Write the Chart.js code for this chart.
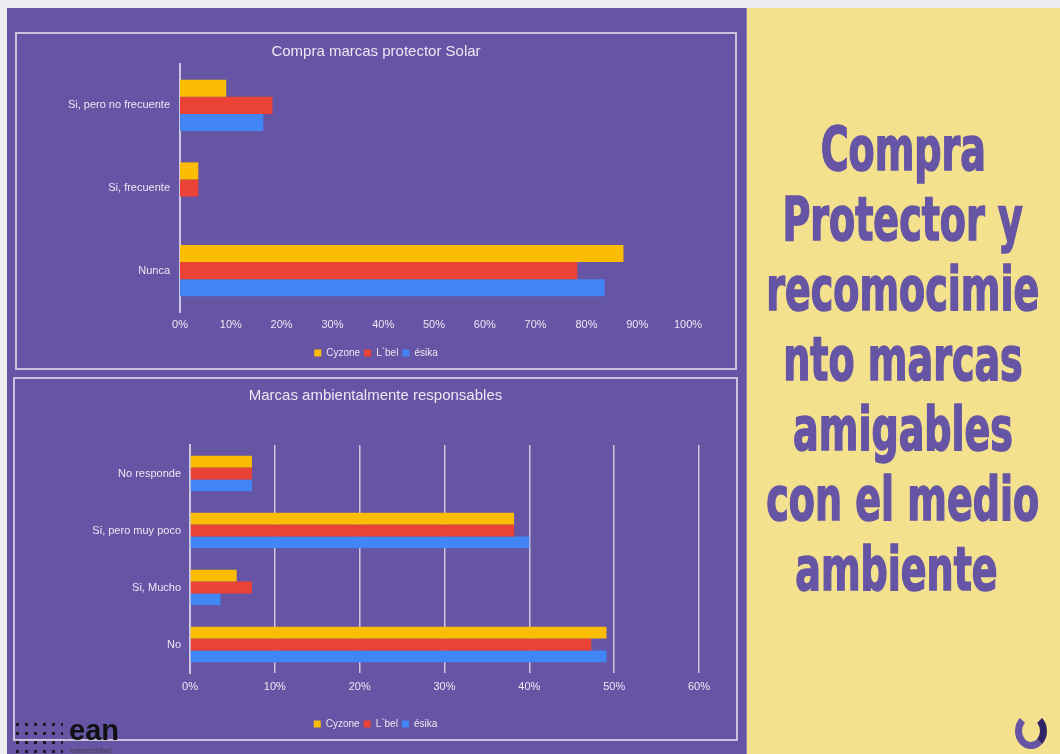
<!DOCTYPE html>
<html>
<head>
<meta charset="utf-8">
<script src="https://cdn.jsdelivr.net/npm/chart.js@4.4.1/dist/chart.umd.min.js"></script>
<style>
  html, body { margin: 0; padding: 0; }
  body { width: 1060px; height: 754px; background: #ececf1; position: relative; overflow: hidden; font-family: "Liberation Sans", Arial, sans-serif; }
  #purple { position: absolute; left: 7px; top: 8px; width: 739px; height: 746px; background: #6654a4; }
  #yellow { position: absolute; left: 746px; top: 8px; width: 314px; height: 746px; background: #f3e18e; border-left: 1px solid #8f84bd; box-sizing: border-box; }
  .box { position: absolute; border: 2px solid #c9c3de; box-sizing: border-box; }
  .box canvas { position: absolute; left: 0; top: 0; }
  #headline { position: absolute; left: 746px; top: 114px; width: 314px;
    display: flex; flex-direction: column; align-items: center;
    font-family: "DejaVu Sans Condensed", "Liberation Sans Narrow", "Liberation Sans", sans-serif;
    font-weight: bold; font-size: 60px; line-height: 70px; color: #6654a4;
    -webkit-text-stroke: 1.6px #6654a4; }
  #headline div { white-space: pre; }
  #ean { position: absolute; left: 13px; top: 718px; width: 120px; height: 36px; }
  #ean .dots { position: absolute; left: 0; top: 2px; width: 50px; height: 34px;
    background-image: radial-gradient(circle, #111 1.6px, transparent 2px); background-size: 9px 9px; opacity: 0.85; }
  #ean .word { position: absolute; left: 56px; top: -4px; font: bold 29px "Liberation Sans", Arial, sans-serif; color: #111; }
  #ean .sub { position: absolute; left: 57px; top: 28px; font: 8px "Liberation Sans", Arial, sans-serif; color: #444; }
  #clogo { position: absolute; left: 1015px; top: 713px; width: 18px; height: 22px; border-radius: 50%;
    border: 7px solid #6654a4; border-right-color: #2e2466; border-top-color: transparent; }
</style>
</head>
<body>
<div id="purple"></div>
<div id="yellow"></div>

<div class="box" style="left:15px; top:32px; width:722px; height:338px;">
  <canvas id="chartSolar" width="718" height="334"></canvas>
</div>
<div class="box" style="left:13px; top:377px; width:725px; height:364px;">
  <canvas id="chartAmbiente" width="721" height="360"></canvas>
</div>

<div id="headline">
  <div>Compra</div><div>Protector y</div><div>recomocimie</div><div>nto marcas</div><div>amigables</div><div>con el medio</div><div>ambiente </div>
</div>

<div id="ean"><div class="dots"></div><div class="word">ean</div><div class="sub">universidad</div></div>
<div id="clogo"></div>

<script>
// Datos
const brands = ['Cyzone', 'L`bel', 'ésika'];
const brandColors = ['#fbbc04', '#ea4335', '#4285f4'];

const solarLabels = ['Si, pero no frecuente', 'Si, frecuente', 'Nunca'];
const solarCyzone = [9.1, 3.6, 87.3];
const solarLbel = [18.2, 3.6, 78.2];
const solarEsika = [16.4, 0, 83.6];

const ambLabels = ['No responde', 'Si, pero muy poco', 'Si, Mucho', 'No'];
const ambCyzone = [7.3, 38.2, 5.5, 49.1];
const ambLbel = [7.3, 38.2, 7.3, 47.3];
const ambEsika = [7.3, 40.0, 3.6, 49.1];

const textColor = '#ebe8f3';
const lineColor = '#cdc8e0';

// Titular: estrechar las líneas (fuente condensada)
const headLines = document.querySelectorAll('#headline div');
const widest = headLines[2].getBoundingClientRect().width;
const squeeze = 273 / widest;
headLines.forEach(el => { el.style.transform = 'scaleX(' + squeeze + ')'; });

// Gráfico de barras horizontal
function createHBarChart(id, labels, series, opts) {
    return new Chart(document.getElementById(id), {
        type: 'bar',
        data: {
            labels: labels,
            datasets: series.map((data, i) => ({
                label: brands[i],
                data: data,
                backgroundColor: brandColors[i],
                borderWidth: 0,
                categoryPercentage: 0.62,
                barPercentage: 1
            }))
        },
        options: {
            indexAxis: 'y',
            responsive: false,
            animation: false,
            layout: { padding: 0 },
            plugins: {
                title: {
                    display: true,
                    text: opts.title,
                    color: textColor,
                    font: { family: 'Liberation Sans', size: 15, weight: 'normal' },
                    padding: { top: opts.titleTop, bottom: opts.titleBottom }
                },
                legend: {
                    position: 'bottom',
                    labels: {
                        color: textColor,
                        boxWidth: 7,
                        boxHeight: 7,
                        padding: 4,
                        font: { family: 'Liberation Sans', size: 10 }
                    }
                },
                tooltip: { enabled: false }
            },
            scales: {
                x: {
                    min: 0,
                    max: opts.max,
                    ticks: {
                        stepSize: 10,
                        color: textColor,
                        padding: opts.tickPad,
                        font: { family: 'Liberation Sans', size: 11 },
                        callback: value => value + '%'
                    },
                    grid: { display: opts.grid, color: lineColor, lineWidth: 1.5, drawTicks: false },
                    border: { display: false },
                    afterFit: axis => { axis.height = opts.xHeight; }
                },
                y: {
                    ticks: {
                        color: textColor,
                        padding: opts.yPad,
                        font: { family: 'Liberation Sans', size: 11 }
                    },
                    grid: { display: false, drawTicks: false },
                    border: { display: true, color: lineColor, width: 2 },
                    afterFit: axis => { axis.width = opts.yWidth; }
                },
                y2: {
                    type: 'category',
                    position: 'right',
                    ticks: { display: false },
                    grid: { display: false, drawTicks: false },
                    border: { display: false },
                    afterFit: axis => { axis.width = opts.rightGap; }
                }
            }
        }
    });
}

createHBarChart('chartSolar', solarLabels, [solarCyzone, solarLbel, solarEsika], {
    title: 'Compra marcas protector Solar',
    max: 100, grid: false,
    titleTop: 9, titleBottom: 3,
    xHeight: 32, tickPad: 6,
    yWidth: 163, yPad: 10, rightGap: 47
});

createHBarChart('chartAmbiente', ambLabels, [ambCyzone, ambLbel, ambEsika], {
    title: 'Marcas ambientalmente responsables',
    max: 60, grid: true,
    titleTop: 8, titleBottom: 40,
    xHeight: 42, tickPad: 7,
    yWidth: 175, yPad: 9, rightGap: 37
});
</script>
</body>
</html>
